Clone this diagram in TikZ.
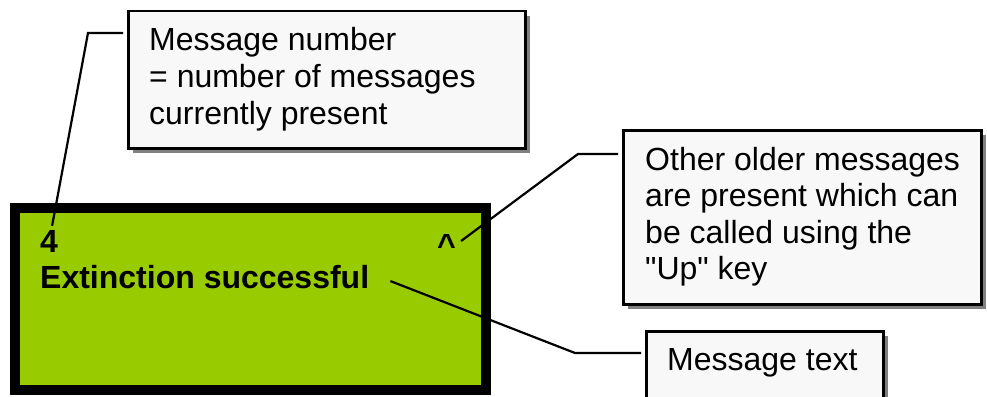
\documentclass[tikz,border=0pt]{standalone}
\usepackage{fontspec}
\setmainfont{Liberation Sans}
\newfontfamily\plainq{Liberation Sans}
\usetikzlibrary{calc,shadows}
\definecolor{lcdgreen}{HTML}{99CC00}
\definecolor{boxfill}{HTML}{F8F8F8}
\definecolor{shadowgray}{HTML}{808080}
\tikzset{
  callout/.style={draw=black, line width=2.5pt, fill=boxfill, rectangle, inner sep=0pt, anchor=north west,
    drop shadow={shadow xshift=5pt, shadow yshift=-5pt, fill=shadowgray, opacity=1}},
  txt/.style={inner sep=0pt, anchor=base west, font=\fontsize{32}{36.5}\selectfont},
  lcdtxt/.style={inner sep=0pt, anchor=base west, font=\fontsize{32}{36.5}\selectfont\bfseries},
  lead/.style={draw=black, line width=2.2pt},
  lcdframe/.style={draw=black, line width=10pt, fill=lcdgreen},
}
\begin{document}
\begin{tikzpicture}[x=1pt,y=-1pt]
\useasboundingbox (0,0) rectangle (987,396);
% LCD display
\draw[lcdframe] (15,208) rectangle (486,390);
\node[lcdtxt] (n4) at (40,252) {4};
\node[lcdtxt] (car) at (437,256) {\char`\^};
\node[lcdtxt] (ext) at (40,288) {Extinction successful};
% callout boxes
\node[callout, minimum width=397pt, minimum height=137pt] (b1) at (127,10) {};
\node[txt] (t1a) at (149,51) {Message number};
\node[txt] (t1b) at (149,87.5) {= number of messages};
\node[txt] (t1c) at (149,124) {currently present};
\node[callout, minimum width=358pt, minimum height=174pt] (b2) at (622,129) {};
\node[txt] (t2a) at (645,170) {Other older messages};
\node[txt] (t2b) at (645,206.5) {are present which can};
\node[txt] (t2c) at (645,243) {be called using the};
\node[txt] (t2d) at (645,279.5) {\plainq "Up" key};
\node[callout, minimum width=237pt, minimum height=80pt] (b3) at (645,330) {};
\node[txt] (t3) at (667,370) {Message text};
% leader lines
\coordinate (k1) at (88,33);
\coordinate (k2) at (578,154);
\coordinate (k3) at (575,353);
\draw[lead] ($(b1.west |- k1)+(-4,0)$) -- (k1) -- ($(n4.north)+(3,-4)$);
\draw[lead] ($(b2.west |- k2)+(-4,0)$) -- (k2) -- ($(car.east)+(5,-4)$);
\draw[lead] ($(b3.west |- k3)+(-4,0)$) -- (k3) -- ($(ext.east)+(21,4.5)$);
\end{tikzpicture}
\end{document}
